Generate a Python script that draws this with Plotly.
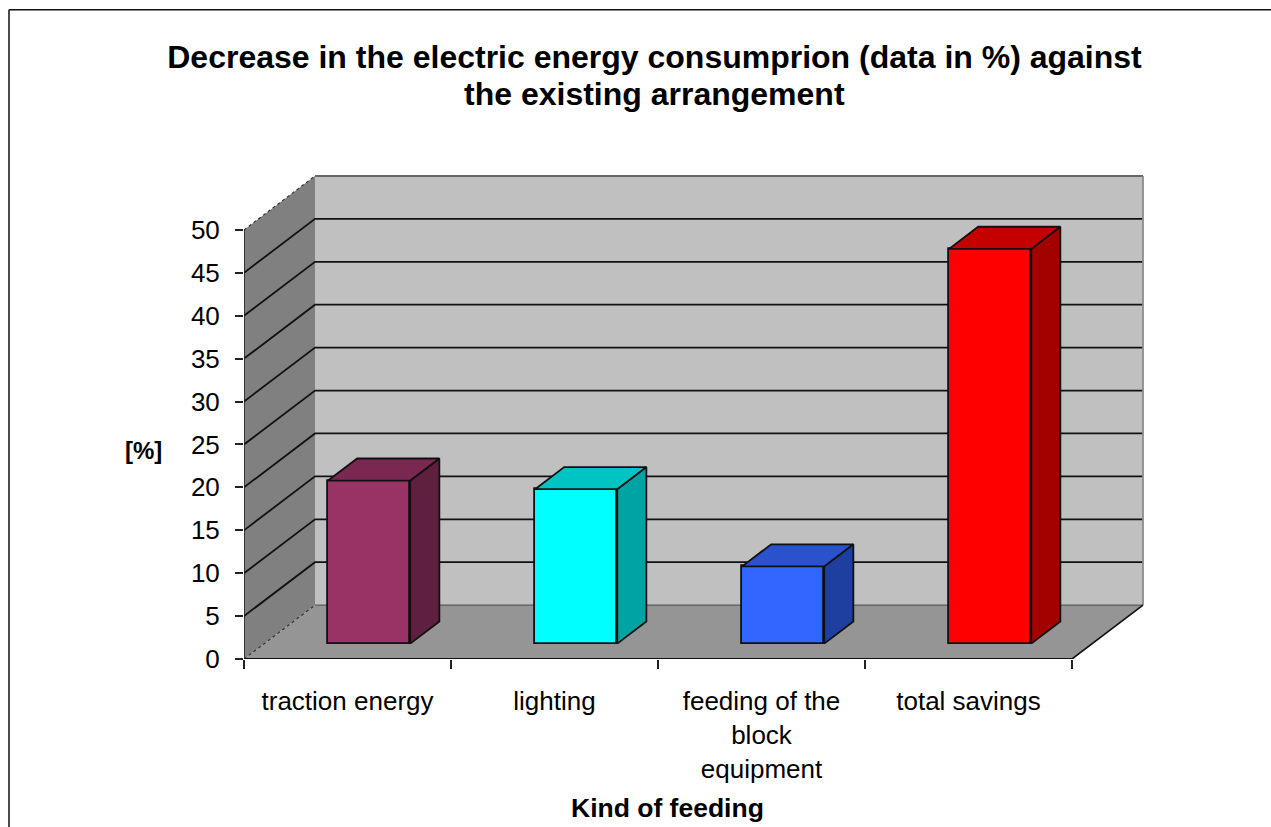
import plotly.graph_objects as go

# Chart content
title_lines = ["Decrease in the electric energy consumprion (data in %) against", "the existing arrangement"]
categories = ["traction energy", "lighting", "feeding of the<br>block<br>equipment", "total savings"]
savings = [19, 18, 9, 46]
front_colors = ["#993366", "#00FFFF", "#3366FF", "#FF0000"]
top_colors = ["#7A2852", "#00C4C4", "#2A52CC", "#C40000"]
side_colors = ["#5F2040", "#00A3A3", "#1F3FA0", "#A30000"]
value_ticks = [0, 5, 10, 15, 20, 25, 30, 35, 40, 45, 50]

# Plot geometry in pixels
WIDTH, HEIGHT = 1271, 827
LEFT, RIGHT, BOTTOM = 244, 1152, 659.5
TOP = 168.5
UNIT_X = 207.0    # pixels per category
UNIT_Y = 8.6      # pixels per percent

# Oblique depth of the box, in axis units
DEPTH_X = 71 / UNIT_X
DEPTH_Y = 54 / UNIT_Y
# Bars sit partway into the box
BAR_GAP_X, BAR_GAP_Y = 0.305 * DEPTH_X, 0.285 * DEPTH_Y
BAR_DEPTH_X, BAR_DEPTH_Y = 0.41 * DEPTH_X, 0.41 * DEPTH_Y
BAR_WIDTH = 0.397

n = len(categories)
x_max = (RIGHT - LEFT) / UNIT_X
y_max = (BOTTOM - TOP) / UNIT_Y


def path(points):
    return "M " + " L ".join(f"{x} {y}" for x, y in points) + " Z"


def open_path(points):
    return "M " + " L ".join(f"{x} {y}" for x, y in points)


def face(points, color):
    return dict(type="path", xref="x", yref="y", layer="below", path=path(points),
                fillcolor=color, line=dict(width=0))


def edge(points, color="#111111", width=1.8, dash="solid"):
    return dict(type="path", xref="x", yref="y", layer="below", path=open_path(points),
                line=dict(color=color, width=width, dash=dash))


top_value = value_ticks[-1]
shapes = [
    # back wall, floor, side wall
    face([(DEPTH_X, DEPTH_Y), (n + DEPTH_X, DEPTH_Y), (n + DEPTH_X, top_value + DEPTH_Y), (DEPTH_X, top_value + DEPTH_Y)], "#C0C0C0"),
    face([(0, 0), (n, 0), (n + DEPTH_X, DEPTH_Y), (DEPTH_X, DEPTH_Y)], "#959595"),
    face([(0, 0), (DEPTH_X, DEPTH_Y), (DEPTH_X, top_value + DEPTH_Y), (0, top_value)], "#808080"),
]
# grid lines run across the side wall and along the back wall
for v in value_ticks[1:-1]:
    shapes.append(edge([(0, v), (DEPTH_X, v + DEPTH_Y), (n + DEPTH_X, v + DEPTH_Y)]))
shapes += [
    edge([(0, top_value), (DEPTH_X, top_value + DEPTH_Y)], "#333333", 1.2, "dot"),
    edge([(DEPTH_X, top_value + DEPTH_Y), (n + DEPTH_X, top_value + DEPTH_Y)], "#666666", 1.8),
    edge([(n + DEPTH_X, top_value + DEPTH_Y), (n + DEPTH_X, DEPTH_Y)], "#8C8C8C", 1.8),
    edge([(DEPTH_X, DEPTH_Y), (n + DEPTH_X, DEPTH_Y)], "#5A5A5A", 1.4),
    edge([(0, 0), (DEPTH_X, DEPTH_Y)], "#333333", 1.2, "dot"),
    edge([(n, 0), (n + DEPTH_X, DEPTH_Y)], "#111111", 1.6),
]

# page frame along the left and top edges
plot_w, plot_h = RIGHT - LEFT, BOTTOM - TOP
frame_x = (9 - LEFT) / plot_w
frame_y = (BOTTOM - 9) / plot_h
shapes += [
    dict(type="line", xref="paper", yref="paper", x0=frame_x, x1=frame_x,
         y0=(BOTTOM - HEIGHT - 10) / plot_h, y1=frame_y, line=dict(color="#111111", width=1.5)),
    dict(type="line", xref="paper", yref="paper", x0=frame_x, x1=(WIDTH - LEFT) / plot_w,
         y0=frame_y, y1=frame_y, line=dict(color="#111111", width=1.5)),
]

fig = go.Figure()

centers = [i + 0.5 for i in range(n)]

# front faces of the bars
fig.add_trace(go.Bar(
    x=[c + BAR_GAP_X for c in centers], y=savings, base=[BAR_GAP_Y] * n, width=BAR_WIDTH,
    marker=dict(color=front_colors, line=dict(color="#111111", width=1.8)),
    showlegend=False,
))

# side and top faces follow the same values
for c, v, top_c, side_c in zip(centers, savings, top_colors, side_colors):
    x0 = c + BAR_GAP_X - BAR_WIDTH / 2
    x1 = c + BAR_GAP_X + BAR_WIDTH / 2
    y0 = BAR_GAP_Y
    y1 = BAR_GAP_Y + v
    fig.add_trace(go.Scatter(
        x=[x1, x1 + BAR_DEPTH_X, x1 + BAR_DEPTH_X, x1, x1],
        y=[y0, y0 + BAR_DEPTH_Y, y1 + BAR_DEPTH_Y, y1, y0],
        mode="lines", fill="toself", fillcolor=side_c,
        line=dict(color="#111111", width=1.8), showlegend=False,
    ))
    fig.add_trace(go.Scatter(
        x=[x0, x1, x1 + BAR_DEPTH_X, x0 + BAR_DEPTH_X, x0],
        y=[y1, y1, y1 + BAR_DEPTH_Y, y1 + BAR_DEPTH_Y, y1],
        mode="lines", fill="toself", fillcolor=top_c,
        line=dict(color="#111111", width=1.8), showlegend=False,
    ))

# front axis lines, which lie on the edge of the plotting area
fig.add_trace(go.Scatter(x=[0, n], y=[0, 0], mode="lines", cliponaxis=False,
                         line=dict(color="#111111", width=2), showlegend=False))
fig.add_trace(go.Scatter(x=[0, 0], y=[0, top_value], mode="lines", cliponaxis=False,
                         line=dict(color="#222222", width=1.6), showlegend=False))

fig.update_layout(
    width=WIDTH, height=HEIGHT,
    margin=dict(l=LEFT, r=WIDTH - RIGHT, t=TOP, b=HEIGHT - BOTTOM, autoexpand=False),
    paper_bgcolor="white", plot_bgcolor="white",
    font=dict(family="Liberation Sans, Arial, sans-serif", color="#000000", size=26),
    title=dict(text=title_lines[0], x=654.5 / WIDTH, xanchor="center", y=1 - 57 / HEIGHT, yanchor="middle",
               font=dict(size=32, color="#000000", weight="bold")),
    shapes=shapes,
    bargap=0,
    xaxis=dict(
        range=[0, x_max], tickmode="array", tickvals=centers, ticktext=categories,
        ticks="", showgrid=False, zeroline=False, showline=False, tickangle=0,
        tickfont=dict(size=26), ticklabelstandoff=24,
        minor=dict(tickmode="array", tickvals=list(range(n + 1)), ticks="outside", ticklen=9,
                   tickwidth=1.5, tickcolor="#222222", showgrid=False),
    ),
    yaxis=dict(
        range=[0, y_max], tickmode="array", tickvals=value_ticks, ticks="outside", ticklen=8,
        tickwidth=1.5, tickcolor="#222222", showgrid=False, zeroline=False, showline=False,
        tickfont=dict(size=26), ticklabelstandoff=10,
    ),
    annotations=[
        dict(text=f"<b>{title_lines[1]}</b>", xref="paper", yref="paper", x=(654.5 - LEFT) / plot_w,
             y=(BOTTOM - 93) / plot_h, showarrow=False, xanchor="center", yanchor="middle", font=dict(size=32)),
        dict(text="<b>[%]</b>", xref="paper", yref="paper", x=(143 - LEFT) / plot_w, y=(BOTTOM - 451) / plot_h,
             showarrow=False, xanchor="center", yanchor="middle", font=dict(size=24)),
        dict(text="<b>Kind of feeding</b>", xref="paper", yref="paper", x=(667 - LEFT) / plot_w,
             y=(BOTTOM - 809) / plot_h, showarrow=False, xanchor="center", yanchor="middle",
             font=dict(size=26.5)),
    ],
)

fig.write_html("out.html")
